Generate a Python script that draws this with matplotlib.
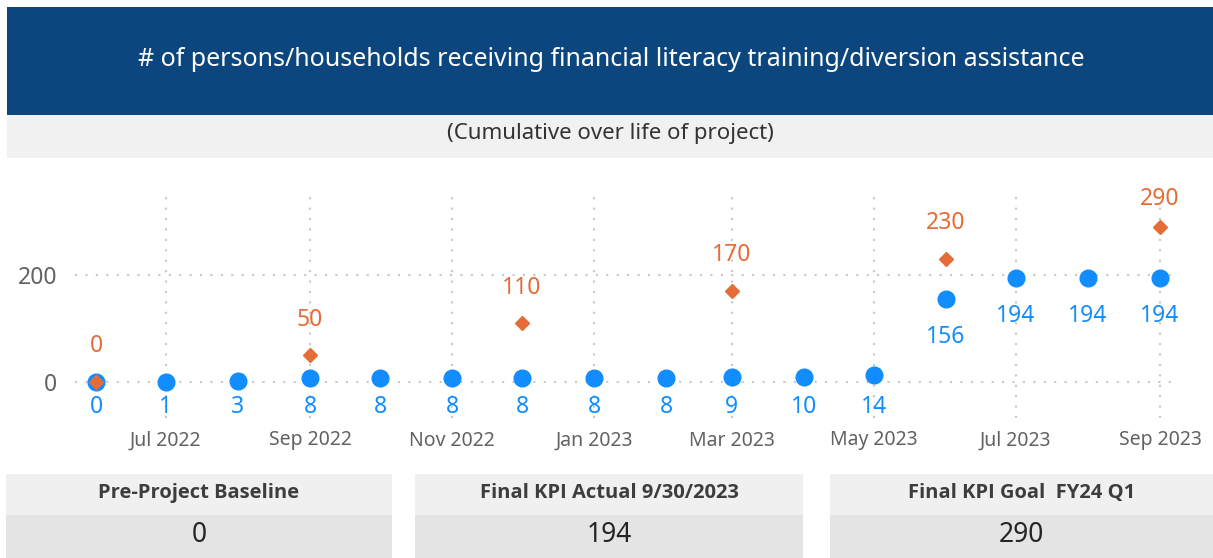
import datetime as dt
import matplotlib
matplotlib.use("Agg")
import matplotlib.pyplot as plt
import matplotlib.dates as mdates
from matplotlib.patches import Rectangle

plt.rcParams['font.family'] = ['Noto Sans', 'DejaVu Sans']

# data
months = ["2022-06", "2022-07", "2022-08", "2022-09", "2022-10", "2022-11", "2022-12",
          "2023-01", "2023-02", "2023-03", "2023-04", "2023-05", "2023-06", "2023-07",
          "2023-08", "2023-09"]
actual = [0, 1, 3, 8, 8, 8, 8, 8, 8, 9, 10, 14, 156, 194, 194, 194]
goal_months = ["2022-06", "2022-09", "2022-12", "2023-03", "2023-06", "2023-09"]
goal = [0, 50, 110, 170, 230, 290]

title = "# of persons/households receiving financial literacy training/diversion assistance"
subtitle = "(Cumulative over life of project)"
card_titles = ["Pre-Project Baseline", "Final KPI Actual 9/30/2023", "Final KPI Goal  FY24 Q1"]
card_values = ["0", "194", "290"]

BLUE = "#118dff"
ORANGE = "#e66c37"
NAVY = "#0b467f"

W, H = 1213, 558
fig = plt.figure(figsize=(W / 100, H / 100), dpi=100)


def px(x0, y0, x1, y1):
    # pixel box (top-left origin) -> figure fraction rect
    return [x0 / W, 1 - y1 / H, (x1 - x0) / W, (y1 - y0) / H]


def box(x0, y0, x1, y1, color):
    l, b, w, h = px(x0, y0, x1, y1)
    fig.patches.append(Rectangle((l, b), w, h, transform=fig.transFigure,
                                 facecolor=color, edgecolor="none", zorder=0))


def ftext(x, y, s, **kw):
    fig.text(x / W, 1 - y / H, s, ha="center", va="center", **kw)


# header banner + subtitle band
box(7, 7, W, 115, NAVY)
box(7, 115, W, 158, "#f1f1f1")
ftext(611, 59, title, color="white", fontsize=18)
ftext(610, 134, subtitle, color="#333333", fontsize=16)

# chart
ax = fig.add_axes(px(75, 195, 1175, 418))
x_act = [dt.datetime.strptime(m, "%Y-%m") for m in months]
x_goal = [dt.datetime.strptime(m, "%Y-%m") for m in goal_months]

ax.plot(x_act, actual, "o", color=BLUE, ms=12, zorder=3)
ax.plot(x_goal, goal, "D", color=ORANGE, ms=7.5, zorder=4)

# labels sit below/above the marker but stay inside the plot area
for x, v in zip(x_act, actual):
    ax.text(x, max(v - 71, -46), str(v), color=BLUE, fontsize=16.5,
            ha="center", va="center", zorder=5)
for x, v in zip(x_goal, goal):
    ax.text(x, min(v + 67, 343), str(v), color=ORANGE, fontsize=16.5,
            ha="center", va="center", zorder=5)

ax.set_xlim(dt.datetime(2022, 5, 23), dt.datetime(2023, 9, 7, 10))
ax.set_ylim(-67, 350)
ax.set_yticks([0, 200])
ax.xaxis.set_major_locator(mdates.MonthLocator(bymonth=[1, 3, 5, 7, 9, 11]))
ax.xaxis.set_major_formatter(mdates.DateFormatter("%b %Y"))
ax.tick_params(length=0, labelcolor="#626262")
ax.tick_params(axis="y", pad=13, labelsize=16.5)
ax.tick_params(axis="x", pad=9, labelsize=14)
ax.grid(True, color="#c8c8c8", linestyle=(0, (1, 4)), linewidth=1.5)
ax.set_axisbelow(True)
for s in ax.spines.values():
    s.set_visible(False)
ax.patch.set_alpha(0)

# KPI cards
cards = [(6, 392), (415, 803), (830, W)]
for (x0, x1), t, v in zip(cards, card_titles, card_values):
    box(x0, 474, x1, 515, "#f0f0f0")
    box(x0, 515, x1, H, "#e4e4e4")
    ftext((x0 + x1) / 2, 493, t, color="#3d3d3d", fontsize=14.5, fontweight="bold",
          family=["Open Sans", "DejaVu Sans"])
    ftext((x0 + x1) / 2, 535, v, color="#252423", fontsize=19)

fig.savefig("out.png", dpi=100)
